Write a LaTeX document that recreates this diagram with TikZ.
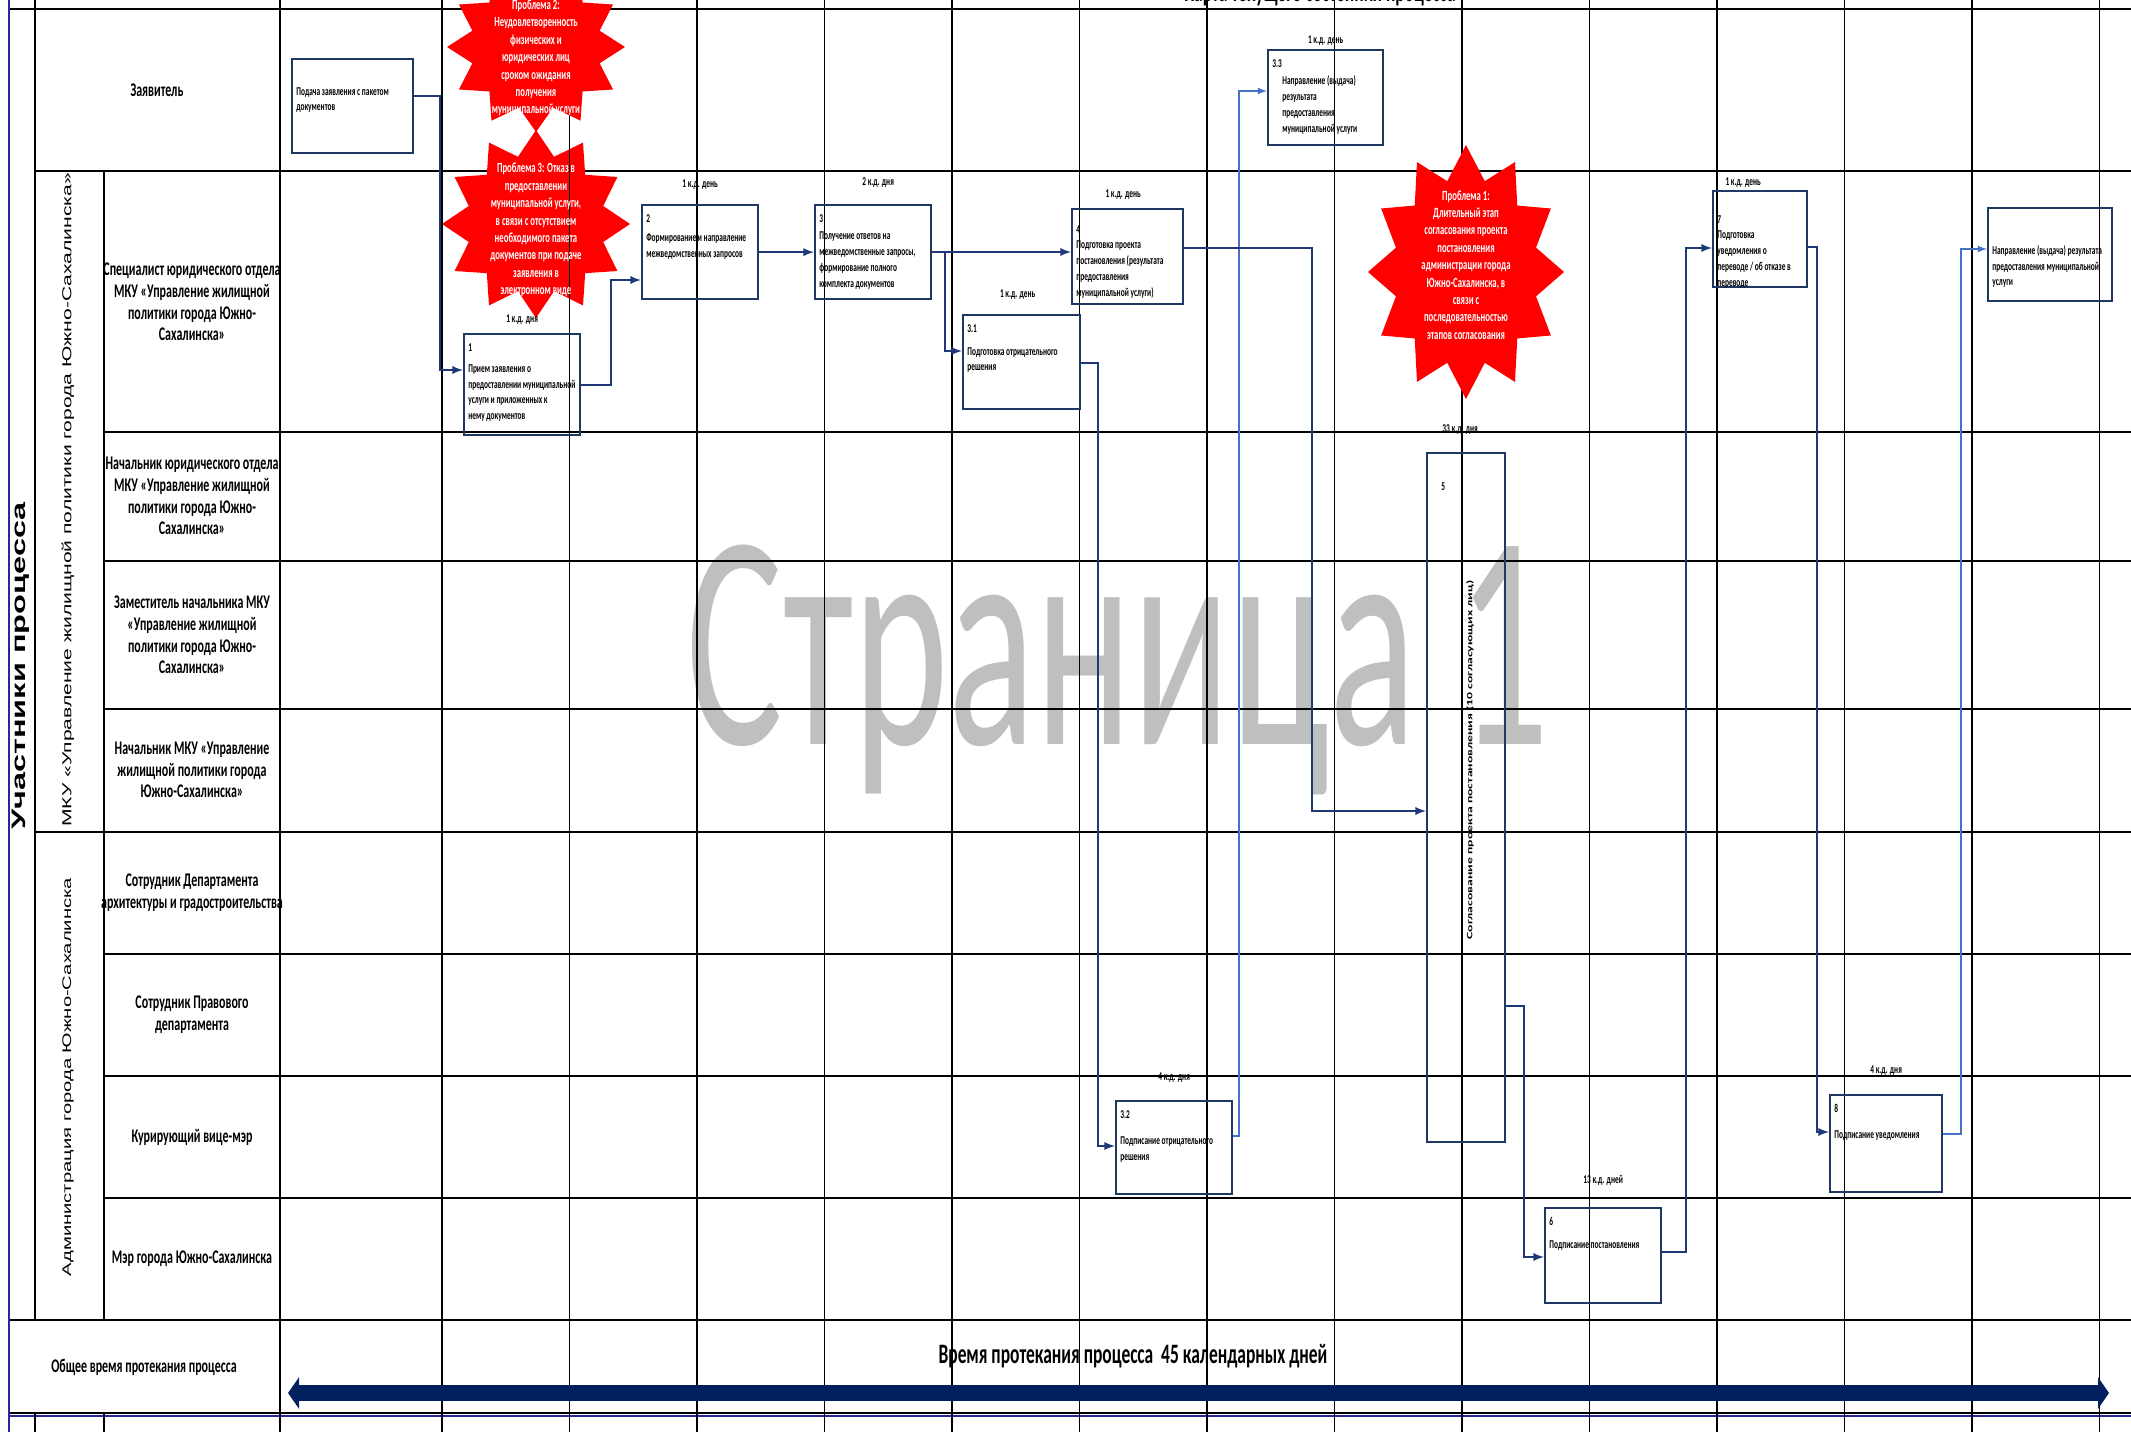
\documentclass[tikz,border=0pt]{standalone}
\usepackage{fontspec}
\usepackage{graphicx}
\setmainfont{Carlito}[FakeStretch=0.62]
\newfontfamily\wmfont{Carlito}[FakeStretch=0.59]
\newfontfamily\plainfont{Carlito}
\newfontfamily\arialfont{Liberation Sans}
\usepackage{tikz}
\usetikzlibrary{arrows, arrows.meta}

\definecolor{boxblue}{RGB}{31,56,100}
\definecolor{flowblue}{RGB}{31,56,120}
\definecolor{lightflow}{RGB}{68,114,196}
\definecolor{arrownavy}{RGB}{0,32,96}
\definecolor{wmgray}{RGB}{191,191,191}
\definecolor{edgeblue}{RGB}{40,40,150}
\definecolor{probred}{RGB}{255,0,0}

% 12-point star: centre x, centre y, radius x, radius y
\newcommand{\sealpath}[4]{plot[samples at={0,...,23}, variable=\sk] ({#1+(mod(\sk,2)==0 ? 1 : 0.74)*#3*sin(\sk*15)}, {#2-(mod(\sk,2)==0 ? 1 : 0.74)*#4*cos(\sk*15)}) -- cycle}

\begin{document}
\begin{tikzpicture}[
    x=0.02cm, y=-0.02cm,
    hline/.style={line width=1.3pt},
    vline/.style={line width=0.6pt},
    rowlabel/.style={font=\bfseries\fontsize{11}{12.4}\selectfont, align=center},
    grouplabel/.style={rotate=90},
    stepbox/.style={draw=boxblue, line width=1.3pt, anchor=north west},
    steptext/.style={anchor=north west, align=left, inner sep=0pt, xshift=0.1cm, yshift=-0.2cm, font=\bfseries\fontsize{6.8}{9}\selectfont},
    daylabel/.style={anchor=south, inner sep=1pt, font=\bfseries\fontsize{6.8}{8}\selectfont},
    problem/.style={text=white, align=center, font=\bfseries\fontsize{8}{9.9}\selectfont},
    flow/.style={draw=flowblue, line width=1.1pt, ->, >={latex}},
    flowlight/.style={draw=lightflow, line width=0.8pt, ->, >={latex}},
    timearrow/.style={draw=arrownavy, line width=0.32cm, {Triangle[length=0.22cm, width=0.62cm]}-{Triangle[length=0.22cm, width=0.62cm]}},
    every node/.style={
        text centered,
        }
        ]
    \useasboundingbox (0,0) rectangle (2131,1432);

    \node[anchor=base, text=wmgray, inner sep=0pt, font=\wmfont\fontsize{175}{180}\selectfont] (wm) at (1118,745) {Страница 1};
    \node[anchor=base, font=\bfseries\fontsize{16}{18}\selectfont] (title) at (1320,2) {Карта текущего состояния процесса};

    % table rules
    \draw[hline] (9,9) -- (2131,9);
    \draw[hline] (35,171) -- (2131,171);
    \foreach \y in {432,561,709,954,1076,1198} \draw[hline] (104,\y) -- (2131,\y);
    \draw[hline] (35,832) -- (2131,832);
    \draw[hline] (9,1320) -- (2131,1320);
    \draw[line width=1.6pt, draw=edgeblue] (9,1416) -- (2131,1416);
    \draw[hline] (9,1413) -- (2131,1413);

    \fill[probred] \sealpath{536}{224}{94}{94};

    \draw[draw=edgeblue, line width=1pt] (9,0) -- (9,1432);
    \draw[vline] (35,0) -- (35,1320);
    \draw[vline] (35,1414) -- (35,1432);
    \draw[vline] (104,171) -- (104,1320);
    \draw[vline] (104,1414) -- (104,1432);
    \foreach \x in {280,442,569.5,...,2100} \draw[vline] (\x,0) -- (\x,1432);

    \fill[probred] \sealpath{536}{47}{89}{85};
    \fill[probred] \sealpath{1466}{272}{98}{127};

    % participants
    \node[grouplabel] (members) at (21,666) {\scalebox{1}[0.6]{\arialfont\bfseries\fontsize{18.5}{20}\selectfont Участники процесса}};
    \node[grouplabel] (mku) at (68,500) {\scalebox{1}[0.62]{\arialfont\fontsize{12}{14}\selectfont МКУ «Управление жилищной политики города Южно-Сахалинска»}};
    \node[grouplabel] (adm) at (68,1077) {\scalebox{1}[0.62]{\arialfont\fontsize{11.5}{14}\selectfont Администрация города Южно-Сахалинска}};

    \node[rowlabel] (applicant) at (157,90) {Заявитель};
    \node[rowlabel] (specialist) at (192,302) {Специалист юридического отдела\\МКУ «Управление жилищной\\политики города Южно-\\Сахалинска»};
    \node[rowlabel] (legalhead) at (192,496) {Начальник юридического отдела\\МКУ «Управление жилищной\\политики города Южно-\\Сахалинска»};
    \node[rowlabel] (deputy) at (192,635) {Заместитель начальника МКУ\\«Управление жилищной\\политики города Южно-\\Сахалинска»};
    \node[rowlabel] (mkuhead) at (192,770) {Начальник МКУ «Управление\\жилищной политики города\\Южно-Сахалинска»};
    \node[rowlabel] (archdept) at (192,893) {Сотрудник Департамента\\архитектуры и градостроительства};
    \node[rowlabel] (lawdept) at (192,1015) {Сотрудник Правового\\департамента};
    \node[rowlabel] (vicemayor) at (192,1137) {Курирующий вице-мэр};
    \node[rowlabel] (mayor) at (192,1259) {Мэр города Южно-Сахалинска};
    \node[rowlabel] (total) at (144,1367) {Общее время протекания процесса};

    % problems
    \node[problem] (prob2) at (536,58) {Проблема 2:\\Неудовлетворенность\\физических и\\юридических лиц\\сроком ожидания\\получения\\муниципальной услуги};
    \node[problem] (prob3) at (536,230) {Проблема 3: Отказ в\\предоставлении\\муниципальной услуги,\\в связи с отсутствием\\необходимого пакета\\документов при подаче\\заявления в\\электронном виде};
    \node[problem] (prob1) at (1466,265) {Проблема 1:\\Длительный этап\\согласования проекта\\постановления\\администрации города\\Южно-Сахалинска, в\\связи с\\последовательностью\\этапов согласования};

    % steps
    \node[stepbox, minimum width=2.42cm, minimum height=1.88cm] (b0) at (291,58) {};
    \node[steptext, yshift=-0.38cm] (b0t) at (b0.north west) {Подача заявления с пакетом\\документов};

    \node[stepbox, minimum width=2.32cm, minimum height=2.02cm] (b1) at (463,333) {};
    \node[steptext] (b1t) at (b1.north west) {1\\[3pt]Прием заявления о\\предоставлении муниципальной\\услуги и приложенных к\\нему документов};
    \node[daylabel, yshift=0.12cm] (d1) at (b1.north) {1 к.д. дня};

    \node[stepbox, minimum width=2.32cm, minimum height=1.88cm] (b2) at (641,204) {};
    \node[steptext] (b2t) at (b2.north west) {2\\[2pt]Формирование и направление\\межведомственных запросов};
    \node[daylabel, yshift=0.24cm] (d2) at (b2.north) {1 к.д. день};

    \node[stepbox, minimum width=2.32cm, minimum height=1.88cm] (b3) at (814,204) {};
    \node[steptext] (b3t) at (b3.north west) {3\\[1pt]Получение ответов на\\межведомственные запросы,\\формирование полного\\комплекта документов};
    \node[daylabel, yshift=0.28cm, xshift=0.1cm] (d3) at (b3.north) {2 к.д. дня};

    \node[stepbox, minimum width=2.34cm, minimum height=1.88cm] (b31) at (962,314) {};
    \node[steptext] (b31t) at (b31.north west) {3.1\\[4pt]Подготовка отрицательного\\решения};
    \node[daylabel, yshift=0.24cm, xshift=-0.08cm] (d31) at (b31.north) {1 к.д. день};

    \node[stepbox, minimum width=2.22cm, minimum height=1.9cm] (b4) at (1071,208) {};
    \node[steptext, yshift=-0.14cm] (b4t) at (b4.north west) {4\\Подготовка проекта\\постановления (результата\\предоставления\\муниципальной услуги)};
    \node[daylabel, yshift=0.12cm, xshift=-0.09cm] (d4) at (b4.north) {1 к.д. день};

    \node[stepbox, minimum width=2.32cm, minimum height=1.86cm] (b32) at (1115,1100) {};
    \node[steptext] (b32t) at (b32.north west) {3.2\\[6pt]Подписание отрицательного\\решения};
    \node[daylabel, yshift=0.3cm] (d32) at (b32.north) {4 к.д. дня};

    \node[stepbox, minimum width=2.3cm, minimum height=1.9cm] (b33) at (1267,49) {};
    \node[steptext] (b33t) at (b33.north west) {3.3\\[1pt]\hspace*{0.2cm}Направление (выдача)\\\hspace*{0.2cm}результата\\\hspace*{0.2cm}предоставления\\\hspace*{0.2cm}муниципальной услуги};
    \node[daylabel, yshift=0.02cm] (d33) at (b33.north) {1 к.д. день};

    \node[stepbox, minimum width=1.56cm, minimum height=13.78cm] (b5) at (1426,452) {};
    \node[steptext, yshift=-0.4cm, xshift=0.2cm] (b5t) at (b5.north west) {5};
    \node[rotate=90] (b5r) at (1470,760) {\scalebox{1}[0.6]{\plainfont\bfseries\fontsize{7.8}{9}\selectfont Согласование проекта постановления (10 согласующих лиц)}};
    \node[daylabel, yshift=0.3cm, xshift=-0.12cm] (d5) at (b5.north) {33 к.д. дня};

    \node[stepbox, minimum width=2.32cm, minimum height=1.9cm] (b6) at (1544,1207) {};
    \node[steptext] (b6t) at (b6.north west) {6\\[4pt]Подписание постановления};
    \node[daylabel, yshift=0.38cm] (d6) at (b6.north) {13 к.д. дней};

    \node[stepbox, minimum width=1.88cm, minimum height=1.92cm] (b7) at (1712,190) {};
    \node[steptext, yshift=-0.3cm] (b7t) at (b7.north west) {7\\Подготовка\\уведомления о\\переводе / об отказе в\\переводе};
    \node[daylabel, xshift=-0.34cm] (d7) at (b7.north) {1 к.д. день};

    \node[stepbox, minimum width=2.24cm, minimum height=1.94cm] (b8) at (1829,1094) {};
    \node[steptext] (b8t) at (b8.north west) {8\\[6pt]Подписание уведомления};
    \node[daylabel, yshift=0.32cm] (d8) at (b8.north) {4 к.д. дня};

    \node[stepbox, minimum width=2.48cm, minimum height=1.86cm] (b9) at (1987,207) {};
    \node[steptext, yshift=-0.56cm] (b9t) at (b9.north west) {Направление (выдача) результата\\предоставления муниципальной\\услуги};

    % flow
    \draw[flow] (b0.east |- 0,96) -| (440,370) -- (b1.west |- 0,370);
    \draw[flow] (b1.east) -| (611,280) -- (b2.west |- 0,280);
    \draw[flow] (b2.east) -- (b3.west);
    \draw[flow] (b3.east |- 0,252) -- (b4.west |- 0,252);
    \draw[flow] (b3.east |- 0,252) -| (945,351) -- (b31.west |- 0,351);
    \draw[flow] (b31.east |- 0,363) -| (1098,1146) -- (b32.west |- 0,1146);
    \draw[flowlight] (b32.east |- 0,1136) -| (1239,91) -- (b33.west |- 0,91);
    \draw[flow] (b4.east |- 0,248) -| (1312,811) -- (b5.west |- 0,811);
    \draw[flow] (b5.east |- 0,1006) -| (1524,1257) -- (b6.west |- 0,1257);
    \draw[flow] (b6.east |- 0,1252) -| (1686,248) -- (b7.west |- 0,248);
    \draw[flow] (b7.east |- 0,247) -| (1817,1132) -- (b8.west |- 0,1132);
    \draw[flowlight] (b8.east |- 0,1134) -| (1961,249) -- (b9.west |- 0,249);

    % total time
    \node[font=\bfseries\fontsize{16}{18}\selectfont] (ttext) at (1133,1356) {Время протекания процесса~ 45 календарных дней};
    \coordinate (tl) at (288,1393);
    \coordinate (tr) at (2109,1393);
    \draw[timearrow] (tl) -- (tr);
\end{tikzpicture}
\end{document}
